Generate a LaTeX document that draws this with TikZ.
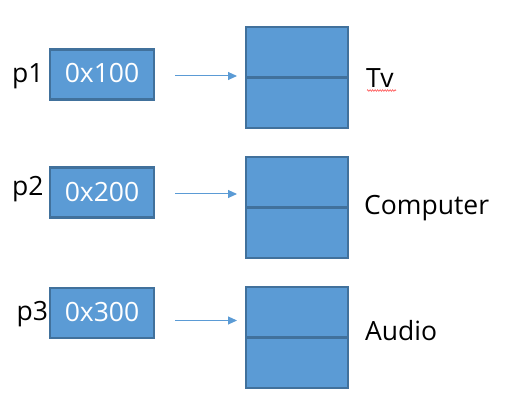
\documentclass[tikz,border=0pt]{standalone}
\usepackage{fontspec}
\setmainfont{Open Sans}
\usetikzlibrary{arrows.meta,decorations.pathmorphing}
\definecolor{boxfill}{HTML}{5B9BD5}
\definecolor{boxline}{HTML}{41719C}
\tikzset{
  ptrbox/.style={draw=boxline, fill=boxfill, line width=2.2pt, minimum width=104pt, minimum height=50pt, inner sep=0pt, text=white, font=\fontsize{25.5}{30}\selectfont},
  cellbox/.style={draw=boxline, fill=boxfill, line width=2.2pt, minimum width=102pt, minimum height=50.5pt, inner sep=0pt},
  lbl/.style={anchor=base west, inner sep=0pt, font=\fontsize{26.5}{30}\selectfont},
  ptrarrow/.style={draw=boxfill, line width=1pt, -{Triangle[length=9pt,width=8pt]}},
}
\begin{document}
\begin{tikzpicture}[x=1pt,y=-1pt]
\useasboundingbox (0,0) rectangle (515,419);
% row 1
\node[ptrbox] (b1) at (102,74.5) {};
\node[lbl, anchor=base, text=white] (t1) at (102,83) {0x100};
\node[lbl] (p1) at (12,83) {p1};
\node[cellbox] (c1a) at (297,52.25) {};
\node[cellbox] (c1b) at (297,102.75) {};
\node[lbl] (l1) at (366,88) {Tv};
\coordinate (s1) at (175,76);
\coordinate (e1) at (237,76);
\draw[ptrarrow] (s1) -- (e1);
\draw[red!70, line width=0.6pt, decorate, decoration={zigzag, segment length=2.5pt, amplitude=0.8pt}] (367,90.5) -- (396,90.5);
% row 2
\node[ptrbox] (b2) at (102,192.5) {};
\node[lbl, anchor=base, text=white] (t2) at (102,201.5) {0x200};
\node[lbl] (p2) at (12,195.5) {p2};
\node[cellbox] (c2a) at (297,182.25) {};
\node[cellbox] (c2b) at (297,232.75) {};
\node[lbl] (l2) at (364,214.5) {Computer};
\coordinate (s2) at (175,194);
\coordinate (e2) at (237,194);
\draw[ptrarrow] (s2) -- (e2);
% row 3
\node[ptrbox] (b3) at (102,313) {};
\node[lbl, anchor=base, text=white] (t3) at (102,322) {0x300};
\node[lbl] (p3) at (16.5,320.5) {p3};
\node[cellbox] (c3a) at (297,312.25) {};
\node[cellbox] (c3b) at (297,362.75) {};
\node[lbl] (l3) at (365,340.5) {Audio};
\coordinate (s3) at (175,320.5);
\coordinate (e3) at (237,320.5);
\draw[ptrarrow] (s3) -- (e3);
\end{tikzpicture}
\end{document}
